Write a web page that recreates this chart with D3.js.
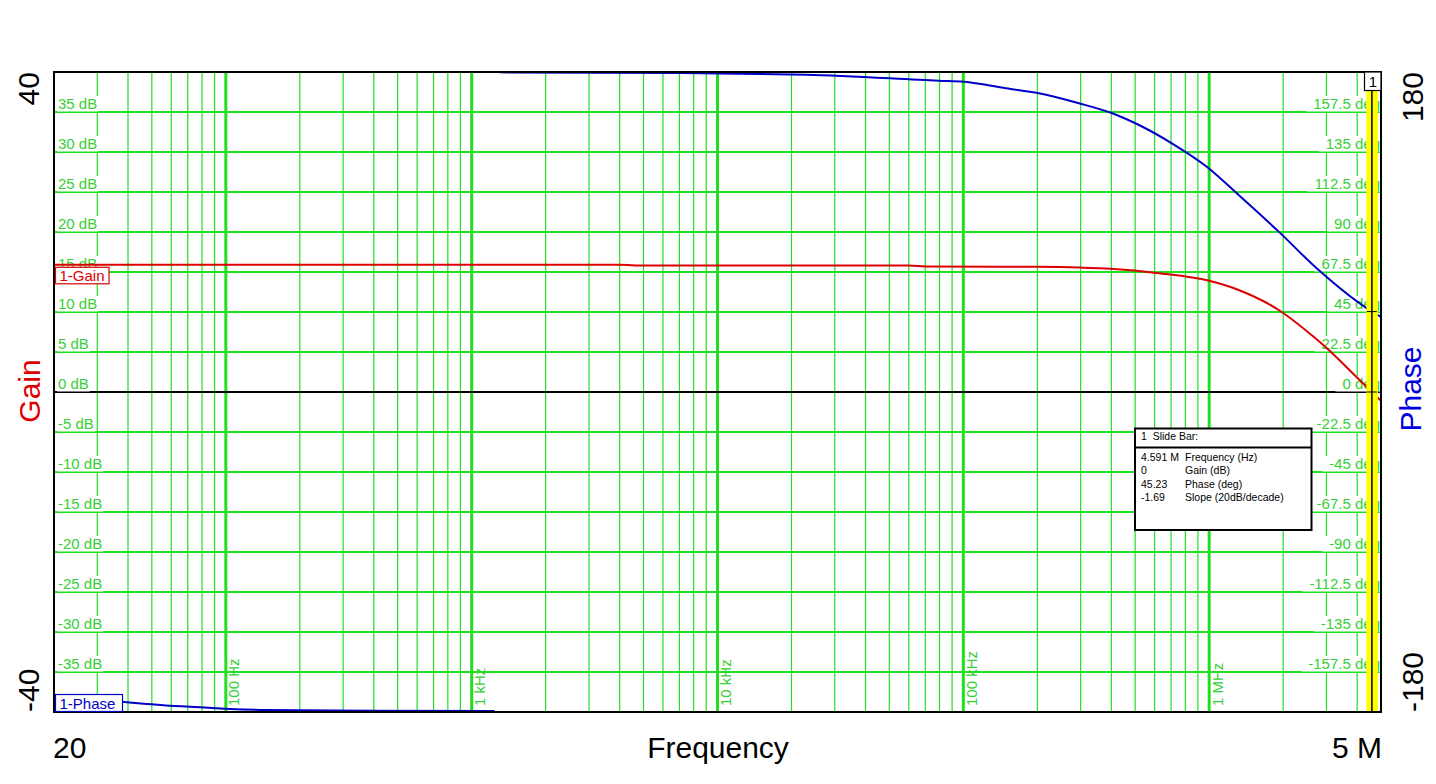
<!DOCTYPE html>
<html>
<head>
<meta charset="utf-8">
<script src="https://cdn.jsdelivr.net/npm/d3@7"></script>
<style>
  html, body { margin: 0; padding: 0; background: #fff; }
  svg { display: block; font-family: "Liberation Sans", Arial, sans-serif; }
</style>
</head>
<body>
<svg id="chart" width="1436" height="784"></svg>
<script>
// ---------------- DATA ----------------
const gainFreq = [20, 4000, 5000, 60000, 70000, 200000, 300000, 398000, 624000, 1000000, 1318000, 1918000, 2660000, 2980000, 4060000, 4591000, 5000000];
const gainDb   = [15.9, 15.9, 15.8, 15.8, 15.7, 15.65, 15.55, 15.4, 14.85, 13.9, 12.75, 10.25, 6.9, 5.6, 1.6, 0, -1.1];

const phaseFreq = [20, 37.7, 47.6, 59.2, 71.4, 91.7, 104, 146, 396, 1238, 1298, 7130, 14800, 22960, 79600, 100700, 149000, 203000, 295000, 398000, 518000, 705000, 978000, 1318000, 1918000, 2788000, 4591000, 5000000];
const phaseDeg  = [-171, -174.2, -175.5, -176.5, -177.0, -177.9, -178.3, -178.9, -179.3, -179.4, 179.8, 179.4, 178.9, 178.5, 175.1, 174.5, 170.8, 168.0, 162.4, 157.1, 150.2, 139.9, 126.7, 110.8, 90.2, 68.6, 45.23, 42.2];

const gainTicks  = [35, 30, 25, 20, 15, 10, 5, 0, -5, -10, -15, -20, -25, -30, -35];
const phaseTicks = [157.5, 135, 112.5, 90, 67.5, 45, 22.5, 0, -22.5, -45, -67.5, -90, -112.5, -135, -157.5];
const decadeFreqs  = [100, 1000, 10000, 100000, 1000000];
const decadeLabels = ["100 Hz", "1 kHz", "10 kHz", "100 kHz", "1 MHz"];

const cursorFreq = 4591000;
const cursorRows = [["4.591 M", "Frequency (Hz)"], ["0", "Gain (dB)"], ["45.23", "Phase (deg)"], ["-1.69", "Slope (20dB/decade)"]];

// ---------------- LAYOUT ----------------
const L = 54, R = 1381, T = 72, B = 712;
const svg = d3.select("#chart");
const x = d3.scaleLog().domain([20, 5e6]).range([L, R]);
const yG = d3.scaleLinear().domain([-40, 40]).range([B, T]);
const yP = d3.scaleLinear().domain([-180, 180]).range([B, T]);

const GRID = "#1fe01f", GTEXT = "#35d035";
const RED = "#dd0000", BLUE = "#0000c8";

svg.append("defs").append("clipPath").attr("id", "plotclip")
  .append("rect").attr("x", L).attr("y", T).attr("width", R - L).attr("height", B - T);

// minor vertical gridlines
const minor = [];
for (let d = 10; d <= 1e6; d *= 10) for (let m = 1; m <= 9; m++) {
  const f = d * m;
  if (f > 20 && f < 5e6 && m !== 1) minor.push(f);
}
svg.append("g").selectAll("line").data(minor).join("line")
  .attr("x1", d => x(d)).attr("x2", d => x(d)).attr("y1", T).attr("y2", B)
  .attr("stroke", GRID).attr("stroke-width", 1.2);

// horizontal gridlines
svg.append("g").selectAll("line").data(gainTicks.filter(d => d !== 0)).join("line")
  .attr("x1", L).attr("x2", R).attr("y1", d => yG(d)).attr("y2", d => yG(d))
  .attr("stroke", GRID).attr("stroke-width", 2.2);

// decade lines
svg.append("g").selectAll("line").data(decadeFreqs).join("line")
  .attr("x1", d => x(d)).attr("x2", d => x(d)).attr("y1", T).attr("y2", B)
  .attr("stroke", GRID).attr("stroke-width", 3);

// 0 dB line
svg.append("line").attr("x1", L).attr("x2", R).attr("y1", yG(0)).attr("y2", yG(0))
  .attr("stroke", "#000").attr("stroke-width", 2);

// decade labels (rotated)
svg.append("g").selectAll("text").data(decadeFreqs).join("text")
  .attr("transform", d => `translate(${x(d) + 13.5},706) rotate(-90)`)
  .attr("font-size", 15).attr("fill", GTEXT).text((d, i) => decadeLabels[i]);

// left gain labels with white background
const gl = svg.append("g");
gainTicks.forEach(v => {
  const yy = yG(v);
  const t = gl.append("text").attr("x", 58).attr("y", yy - 3).attr("font-size", 15)
    .attr("fill", GTEXT).text(v + " dB");
  const w = t.node().getComputedTextLength();
  gl.insert("rect", "text").attr("x", 57).attr("y", yy - 16).attr("width", w + 2).attr("height", 15.5).attr("fill", "#fff");
});
// right phase labels
const pl = svg.append("g");
phaseTicks.forEach(v => {
  const yy = yP(v);
  const t = pl.append("text").attr("x", 1380).attr("y", yy - 3).attr("font-size", 15)
    .attr("text-anchor", "end").attr("fill", GTEXT).text(v + " deg");
  const w = t.node().getComputedTextLength();
  pl.insert("rect", "text").attr("x", 1380 - w - 7).attr("y", yy - 16).attr("width", w + 7).attr("height", 15.5).attr("fill", "#fff");
});

// curves
const plot = svg.append("g").attr("clip-path", "url(#plotclip)");
const smooth = d3.line().curve(d3.curveMonotoneX);
const gainPts = gainFreq.map((f, i) => [x(f), yG(gainDb[i])]);
plot.append("path").attr("d", smooth(gainPts)).attr("fill", "none")
  .attr("stroke", RED).attr("stroke-width", 2);

// phase: split where wrapping occurs
const segs = [[]];
phaseFreq.forEach((f, i) => {
  if (i > 0 && Math.abs(phaseDeg[i] - phaseDeg[i - 1]) > 180) segs.push([]);
  segs[segs.length - 1].push([x(f), yP(phaseDeg[i])]);
});
segs.forEach(s => plot.append("path").attr("d", smooth(s)).attr("fill", "none")
  .attr("stroke", BLUE).attr("stroke-width", 2));

// slide bar
const cx = x(cursorFreq);
svg.append("rect").attr("x", cx - 5.5).attr("y", T).attr("width", 11.5).attr("height", B - T).attr("fill", "#ffff00");
svg.append("line").attr("x1", cx).attr("x2", cx).attr("y1", T).attr("y2", B).attr("stroke", "#000").attr("stroke-width", 1.5);
// cross marks at intersections
[yG(0), yP(45.23)].forEach(yy => {
  svg.append("line").attr("x1", cx - 5).attr("x2", cx + 5).attr("y1", yy).attr("y2", yy).attr("stroke", "#000").attr("stroke-width", 1);
});

// plot border
svg.append("rect").attr("x", L).attr("y", T).attr("width", R - L).attr("height", B - T)
  .attr("fill", "none").attr("stroke", "#000").attr("stroke-width", 2);

// cursor number box
svg.append("rect").attr("x", 1364.5).attr("y", T).attr("width", 16.5).attr("height", 18.5)
  .attr("fill", "#fff").attr("stroke", "#000").attr("stroke-width", 1.2);
svg.append("text").attr("x", 1373).attr("y", 87).attr("text-anchor", "middle").attr("font-size", 15).text("1");

// legend boxes
const lg = svg.append("g");
lg.append("rect").attr("x", 55.5).attr("y", yG(gainDb[0]) + 2.5).attr("width", 53.5).attr("height", 16.5)
  .attr("fill", "#fff").attr("stroke", RED).attr("stroke-width", 1.2);
lg.append("text").attr("x", 59.5).attr("y", yG(gainDb[0]) + 16.5).attr("font-size", 15).attr("fill", RED).text("1-Gain");
lg.append("rect").attr("x", 55.5).attr("y", B - 17.5).attr("width", 67).attr("height", 17)
  .attr("fill", "#fff").attr("stroke", BLUE).attr("stroke-width", 1.2);
lg.append("text").attr("x", 59.5).attr("y", B - 3.5).attr("font-size", 15).attr("fill", BLUE).text("1-Phase");

// info box
const ib = svg.append("g");
ib.append("rect").attr("x", 1135).attr("y", 428.5).attr("width", 176.5).attr("height", 101.5)
  .attr("fill", "#fff").attr("stroke", "#000").attr("stroke-width", 2);
ib.append("line").attr("x1", 1135).attr("x2", 1311.5).attr("y1", 447.5).attr("y2", 447.5).attr("stroke", "#000").attr("stroke-width", 2);
ib.append("text").attr("x", 1141).attr("y", 440).attr("font-size", 10.5).text("1  Slide Bar:").attr("xml:space", "preserve").style("white-space", "pre");
cursorRows.forEach((r, i) => {
  ib.append("text").attr("x", 1141).attr("y", 461 + i * 13.3).attr("font-size", 10.5).text(r[0]);
  ib.append("text").attr("x", 1185).attr("y", 461 + i * 13.3).attr("font-size", 10.5).text(r[1]);
});

// axis titles and end labels
svg.append("text").attr("x", 53).attr("y", 758).attr("font-size", 30).text("20");
svg.append("text").attr("x", 1382).attr("y", 758).attr("font-size", 30).attr("text-anchor", "end").text("5 M");
svg.append("text").attr("x", 718).attr("y", 758).attr("font-size", 30).attr("text-anchor", "middle").text("Frequency");

svg.append("text").attr("transform", `translate(39,${T}) rotate(-90)`).attr("font-size", 30).attr("text-anchor", "end").text("40");
svg.append("text").attr("transform", `translate(39,${B}) rotate(-90)`).attr("font-size", 30).attr("text-anchor", "start").text("-40");
svg.append("text").attr("transform", `translate(40,391) rotate(-90)`).attr("font-size", 30).attr("text-anchor", "middle").attr("fill", "#e00000").text("Gain");

svg.append("text").attr("transform", `translate(1423,${T}) rotate(-90)`).attr("font-size", 30).attr("text-anchor", "end").text("180");
svg.append("text").attr("transform", `translate(1423,${B}) rotate(-90)`).attr("font-size", 30).attr("text-anchor", "start").text("-180");
svg.append("text").attr("transform", `translate(1421,389) rotate(-90)`).attr("font-size", 30).attr("text-anchor", "middle").attr("fill", "#0000e0").text("Phase");
</script>
</body>
</html>
